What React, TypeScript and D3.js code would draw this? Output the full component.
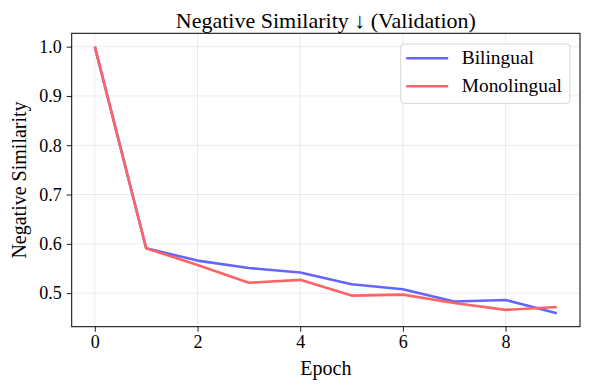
import { useEffect, useRef } from "react";
import * as d3 from "d3";

const epochs = [0, 1, 2, 3, 4, 5, 6, 7, 8, 9];
const bilingual = [1.0, 0.591, 0.566, 0.551, 0.542, 0.518, 0.508, 0.483, 0.486, 0.459];
const monolingual = [1.0, 0.591, 0.557, 0.521, 0.527, 0.495, 0.497, 0.48, 0.466, 0.472];
const xTicks = [0, 2, 4, 6, 8];
const yTicks = [0.5, 0.6, 0.7, 0.8, 0.9, 1.0];

const series = [
  { name: "Bilingual", values: bilingual, color: "#6464ff" },
  { name: "Monolingual", values: monolingual, color: "#ff6464" },
];

export default function App() {
  const svgRef = useRef<SVGSVGElement>(null);
  const width = 590;
  const height = 390;

  useEffect(() => {
    const svg = d3.select(svgRef.current);
    svg.selectAll("*").remove();

    const margin = { top: 33.3, right: 10, bottom: 63.3, left: 71.7 };
    const w = width - margin.left - margin.right;
    const h = height - margin.top - margin.bottom;
    const font = "'Liberation Serif', 'Times New Roman', serif";

    // matplotlib-like 5% padding
    const allVals = bilingual.concat(monolingual);
    const yMin = d3.min(allVals)!;
    const yMax = d3.max(allVals)!;
    const yPad = (yMax - yMin) * 0.05;
    const x = d3.scaleLinear().domain([-0.45, 9.45]).range([0, w]);
    const y = d3.scaleLinear().domain([yMin - yPad, yMax + yPad]).range([h, 0]);

    svg.append("rect").attr("width", width).attr("height", height).attr("fill", "white");

    const g = svg.append("g").attr("transform", `translate(${margin.left},${margin.top})`);

    // grid
    g.selectAll(".gx")
      .data(xTicks)
      .enter()
      .append("line")
      .attr("x1", (d) => x(d))
      .attr("x2", (d) => x(d))
      .attr("y1", 0)
      .attr("y2", h)
      .attr("stroke", "#b0b0b0")
      .attr("stroke-opacity", 0.3)
      .attr("stroke-width", 0.8);
    g.selectAll(".gy")
      .data(yTicks)
      .enter()
      .append("line")
      .attr("x1", 0)
      .attr("x2", w)
      .attr("y1", (d) => y(d))
      .attr("y2", (d) => y(d))
      .attr("stroke", "#b0b0b0")
      .attr("stroke-opacity", 0.3)
      .attr("stroke-width", 0.8);

    const line = d3
      .line<number>()
      .x((_, i) => x(epochs[i]))
      .y((d) => y(d));

    series.forEach((s) => {
      g.append("path")
        .datum(s.values)
        .attr("d", line)
        .attr("fill", "none")
        .attr("stroke", s.color)
        .attr("stroke-width", 2.6)
        .attr("stroke-linejoin", "round");
    });

    // axes
    const xAxis = g
      .append("g")
      .attr("transform", `translate(0,${h})`)
      .call(d3.axisBottom(x).tickValues(xTicks).tickFormat(d3.format("d")).tickSizeOuter(0).tickSize(5).tickPadding(4));
    const yAxis = g
      .append("g")
      .call(d3.axisLeft(y).tickValues(yTicks).tickFormat(d3.format(".1f")).tickSizeOuter(0).tickSize(5).tickPadding(5));
    [xAxis, yAxis].forEach((a) => {
      a.select(".domain").remove();
      a.selectAll("line").attr("stroke", "black").attr("stroke-width", 0.9);
      a.selectAll("text").style("font-family", font).style("font-size", "18px").attr("fill", "black");
    });

    g.append("rect")
      .attr("width", w)
      .attr("height", h)
      .attr("fill", "none")
      .attr("stroke", "black")
      .attr("stroke-width", 1);

    // title & labels
    svg.append("text")
      .attr("x", margin.left + w / 2)
      .attr("y", 28)
      .attr("text-anchor", "middle")
      .style("font-family", font)
      .style("font-size", "22px")
      .text("Negative Similarity ↓ (Validation)");

    svg.append("text")
      .attr("x", margin.left + w / 2)
      .attr("y", 375)
      .attr("text-anchor", "middle")
      .style("font-family", font)
      .style("font-size", "20px")
      .text("Epoch");

    svg.append("text")
      .attr("transform", `translate(25.5,${margin.top + h / 2}) rotate(-90)`)
      .attr("text-anchor", "middle")
      .style("font-family", font)
      .style("font-size", "20px")
      .text("Negative Similarity");

    // legend
    const lg = svg.append("g").attr("transform", "translate(400.7,44)");
    lg.append("rect")
      .attr("width", 169.3)
      .attr("height", 59.3)
      .attr("rx", 3)
      .attr("fill", "white")
      .attr("fill-opacity", 0.8)
      .attr("stroke", "#d6d6d6");
    series.forEach((s, i) => {
      const ly = 14.3 + i * 27.9;
      lg.append("line")
        .attr("x1", 5.5)
        .attr("x2", 47.5)
        .attr("y1", ly)
        .attr("y2", ly)
        .attr("stroke", s.color)
        .attr("stroke-width", 2.6);
      lg.append("text")
        .attr("x", 61)
        .attr("y", ly + 5.8)
        .style("font-family", font)
        .style("font-size", "19.4px")
        .text(s.name);
    });
  }, []);

  return (
    <svg
      ref={svgRef}
      width={width}
      height={height}
      style={{ position: "absolute", left: 0, top: 0 }}
    ></svg>
  );
}
